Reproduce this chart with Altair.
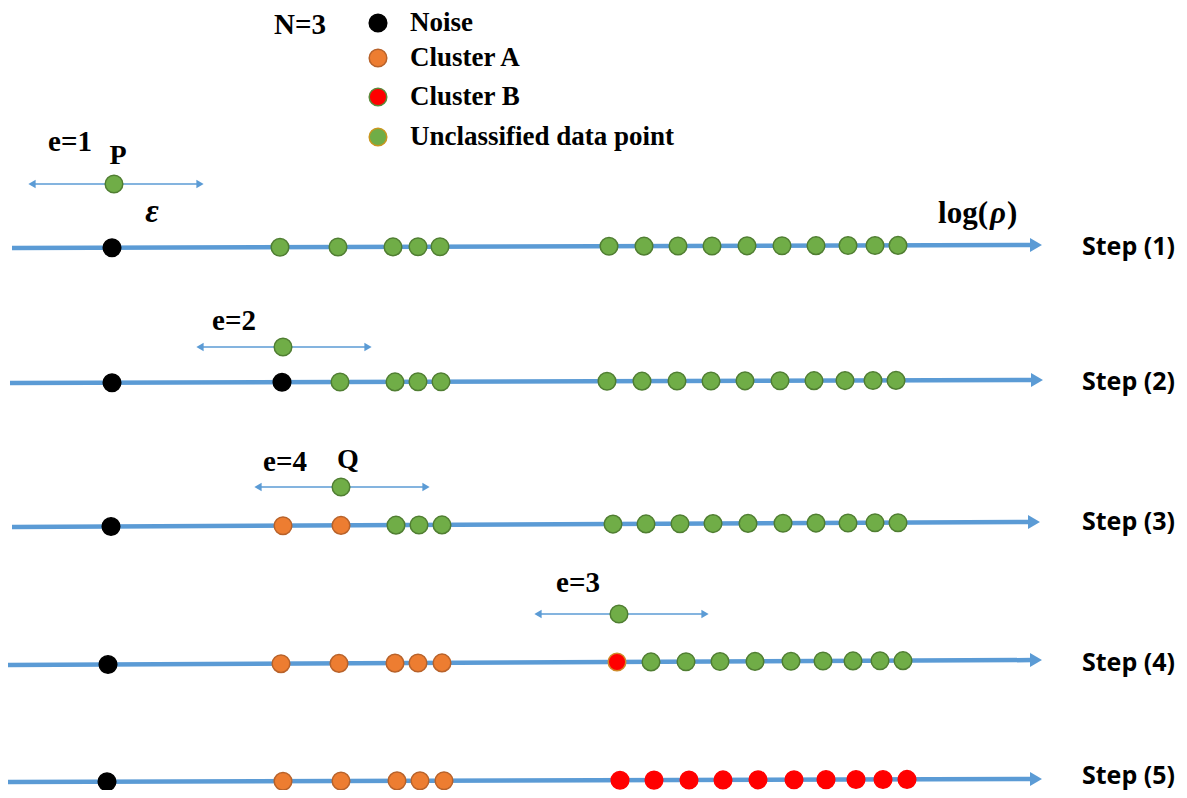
import altair as alt
import pandas as pd

# ---------------- data ----------------
steps = ["Step (1)", "Step (2)", "Step (3)", "Step (4)", "Step (5)"]
# log(rho) axis of each step: start x, tip x, y at start, y at tip
axis_x0 = [12, 10, 12, 8, 6]
axis_tip = [1042, 1043, 1040, 1042, 1042]
axis_y0 = [248, 383, 527, 665, 782]
axis_y1 = [245, 380, 522, 660, 779]
step_label_y = [247, 382, 522, 663, 776]

# point positions (log rho) and their class at each step
s1_x = [112, 280, 338, 393, 418, 440, 609, 644, 678, 712, 747, 782, 816, 848, 875, 898]
s1_c = ["Noise"] + ["Unclassified"] * 15
s2_x = [112, 282, 340, 395, 418, 441, 607, 642, 677, 711, 745, 780, 814, 845, 873, 896]
s2_c = ["Noise", "Noise"] + ["Unclassified"] * 14
s3_x = [111, 283, 341, 396, 419, 442, 613, 646, 680, 713, 748, 783, 816, 848, 875, 898]
s3_c = ["Noise", "Cluster A", "Cluster A"] + ["Unclassified"] * 13
s4_x = [108, 281, 339, 395, 418, 442, 617, 651, 686, 720, 755, 791, 823, 853, 880, 903]
s4_c = ["Noise"] + ["Cluster A"] * 5 + ["Cluster B seed"] + ["Unclassified"] * 9
s5_x = [107, 283, 341, 397, 420, 444, 620, 654, 689, 723, 758, 794, 826, 856, 883, 907]
s5_c = ["Noise"] + ["Cluster A"] * 5 + ["Cluster B"] * 10
step_x = [s1_x, s2_x, s3_x, s4_x, s5_x]
step_c = [s1_c, s2_c, s3_c, s4_c, s5_c]

# epsilon neighbourhood of the current point (steps 1-4)
eps_point_x = [114, 283, 341, 619]
eps_left = [27, 195, 253, 533]
eps_right = [205, 373, 431, 710]
eps_y = [184, 347, 487, 614]
eps_labels = ["e=1", "e=2", "e=4", "e=3"]
eps_label_x = [70, 234, 285, 578]
eps_label_y = [142, 321, 462, 583]

# named points
name_labels = ["P", "Q"]
name_x = [118, 348]
name_y = [156, 460]

# legend
legend_labels = ["Noise", "Cluster A", "Cluster B", "Unclassified data point"]
legend_classes = ["Noise", "Cluster A", "Cluster B legend", "Unclassified legend"]
legend_y = [23, 58, 97, 137]

classes = ["Noise", "Cluster A", "Cluster B", "Cluster B seed", "Unclassified",
           "Cluster B legend", "Unclassified legend"]
fills = ["#000000", "#ED7D31", "#FF0000", "#FF0000", "#70AD47", "#FF0000", "#70AD47"]
strokes = ["#000000", "#B8622A", "#FF0000", "#D08A2A", "#507E32", "#5A8A3A", "#C9961E"]

BLUE = "#5B9BD5"

# ---------------- tables ----------------
pts, lines, heads = [], [], []
for i, s in enumerate(steps):
    x0, x1, y0, y1 = axis_x0[i], axis_tip[i], axis_y0[i], axis_y1[i]
    lines.append({"g": s, "x": x0, "y": y0})
    lines.append({"g": s, "x": x1 - 10, "y": y0 + (y1 - y0) * (x1 - 10 - x0) / (x1 - x0)})
    heads.append({"x": x1 - 6, "y": y1, "shape": "triangle-right"})
    for x, c in zip(step_x[i], step_c[i]):
        pts.append({"x": x, "y": y0 + (y1 - y0) * (x - x0) / (x1 - x0), "cls": c})

thin, thin_heads = [], []
for i in range(len(eps_point_x)):
    thin.append({"g": i, "x": eps_left[i] + 4, "y": eps_y[i]})
    thin.append({"g": i, "x": eps_right[i] - 4, "y": eps_y[i]})
    thin_heads.append({"x": eps_left[i] + 5, "y": eps_y[i], "shape": "triangle-left"})
    thin_heads.append({"x": eps_right[i] - 5, "y": eps_y[i], "shape": "triangle-right"})
    pts.append({"x": eps_point_x[i], "y": eps_y[i], "cls": "Unclassified"})

for c, y in zip(legend_classes, legend_y):
    pts.append({"x": 378, "y": y, "cls": c})

pts_df = pd.DataFrame(pts)
lines_df = pd.DataFrame(lines)
heads_df = pd.DataFrame(heads)
thin_df = pd.DataFrame(thin)
thin_heads_df = pd.DataFrame(thin_heads)

X = alt.X("x:Q", scale=alt.Scale(domain=[8, 1179], nice=False, zero=False), axis=None)
Y = alt.Y("y:Q", scale=alt.Scale(domain=[8, 790], nice=False, zero=False, reverse=True), axis=None)

axis_lines = alt.Chart(lines_df).mark_line(color=BLUE, strokeWidth=4.5).encode(x=X, y=Y, detail="g:N")
axis_heads = alt.Chart(heads_df).mark_point(filled=True, color=BLUE, opacity=1, size=190).encode(
    x=X, y=Y, shape=alt.Shape("shape:N", scale=None))
thin_lines = alt.Chart(thin_df).mark_line(color=BLUE, strokeWidth=1.3).encode(x=X, y=Y, detail="g:N")
thin_arrow_heads = alt.Chart(thin_heads_df).mark_point(filled=True, color=BLUE, opacity=1, size=70).encode(
    x=X, y=Y, shape=alt.Shape("shape:N", scale=None))

points = alt.Chart(pts_df).mark_circle(size=310, opacity=1, strokeWidth=1.5).encode(
    x=X, y=Y,
    fill=alt.Fill("cls:N", scale=alt.Scale(domain=classes, range=fills), legend=None),
    stroke=alt.Stroke("cls:N", scale=alt.Scale(domain=classes, range=strokes), legend=None),
)

serif = "Liberation Serif"

def text_layer(df, size, align="center", style="normal", font=serif):
    return alt.Chart(df).mark_text(font=font, fontSize=size, fontWeight="bold", fontStyle=style,
                                   align=align, baseline="middle", color="black").encode(
        x=X, y=Y, text="t:N")

eps_text = text_layer(pd.DataFrame({"x": eps_label_x, "y": eps_label_y, "t": eps_labels}), 29)
name_text = text_layer(pd.DataFrame({"x": name_x, "y": name_y, "t": name_labels}), 28)
epsilon_text = text_layer(pd.DataFrame({"x": [152], "y": [212], "t": ["ε"]}), 33, style="italic")
legend_text = text_layer(pd.DataFrame({"x": [410] * 4, "y": legend_y, "t": legend_labels}), 27, align="left")
n_text = text_layer(pd.DataFrame({"x": [300], "y": [25], "t": ["N=3"]}), 29)
log_text = text_layer(pd.DataFrame({"x": [988], "y": [214], "t": ["log("]}), 31, align="right")
rho_text = text_layer(pd.DataFrame({"x": [998], "y": [214], "t": ["ρ"]}), 31, style="italic")
close_text = text_layer(pd.DataFrame({"x": [1007], "y": [214], "t": [")"]}), 31, align="left")
step_text = text_layer(pd.DataFrame({"x": [1082] * 5, "y": step_label_y, "t": steps}), 25,
                       align="left", font="Open Sans")

chart = alt.layer(
    axis_lines, axis_heads, thin_lines, thin_arrow_heads, points,
    eps_text, name_text, epsilon_text, legend_text, n_text,
    log_text, rho_text, close_text, step_text,
).properties(
    width=1171, height=782,
    autosize=alt.AutoSizeParams(type="none"),
    padding=0,
    background="white",
).configure_view(stroke=None)

chart.save("out.html", embed_options={"renderer": "svg", "actions": False})
